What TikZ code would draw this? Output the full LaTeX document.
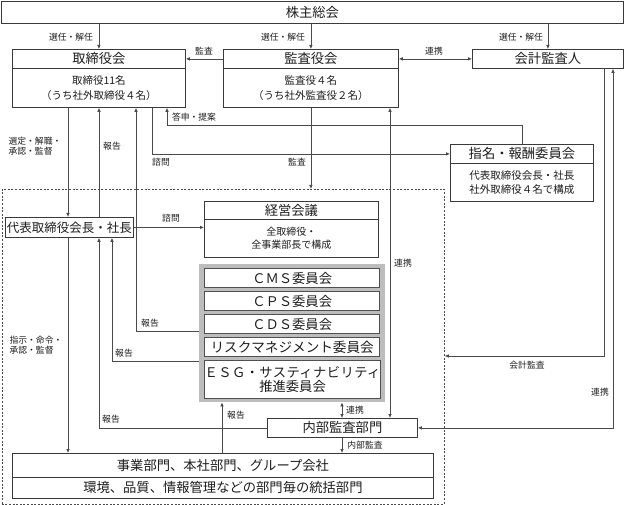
\documentclass[tikz,border=0pt]{standalone}
\usepackage{fontspec}
\setmainfont{Noto Sans CJK JP}
\newfontfamily\jpls[LetterSpace=3]{Noto Sans CJK JP}
\usetikzlibrary{arrows.meta,calc}
\definecolor{lc}{HTML}{4A4A4A}
\definecolor{bc}{HTML}{3A3A3A}
\definecolor{cc}{HTML}{505050}
\definecolor{gc}{HTML}{BDBDBD}
\definecolor{tc}{HTML}{1E1E1E}
\begin{document}
\begin{tikzpicture}[x=1pt,y=-1pt,
  ln/.style={draw=lc, line width=0.75pt},
  arr/.style={ln, -{Latex[length=4pt,width=3.6pt]}},
  darr/.style={ln, {Latex[length=4pt,width=3.6pt]}-{Latex[length=4pt,width=3.6pt]}},
  box/.style={draw=bc, line width=0.8pt, fill=white, inner sep=0pt, anchor=north west, align=center, text=tc},
  ttl/.style={box, font=\fontsize{13.3}{15}\selectfont},
  bdy/.style={box, font=\fontsize{10.5}{14.5}\selectfont},
  lbl/.style={font=\fontsize{8.8}{10.5}\selectfont, inner sep=0pt, align=left, text=tc},
  cbox/.style={draw=cc, line width=1.3pt, fill=white, inner sep=0pt, anchor=north west, align=center, text=tc, minimum width=175pt, font=\fontsize{13.3}{14}\selectfont},
]
\useasboundingbox (0,0) rectangle (624,505);

% column / row helpers
\foreach \c in {68,99,112,136,152,167,222,342,390,522,604,613}{\coordinate (c\c) at (\c,0);}
\foreach \r in {125,331,356,361}{\coordinate (r\r) at (0,\r);}

% dashed group
\node[draw=lc, line width=0.75pt, dash pattern=on 2pt off 1.6pt, anchor=north west, inner sep=0pt,
      minimum width=442.5pt, minimum height=314.5pt] (grp) at (1.5,189) {};

% gray committee area
\node[fill=gc, draw=none, anchor=north west, inner sep=0pt, minimum width=186pt, minimum height=138pt] (gray) at (199,264) {};

% boxes
\node[ttl, minimum width=622pt, minimum height=22pt] (kabu) at (1,1) {株主総会};

\node[ttl, minimum width=173pt, minimum height=19pt] (toriT) at (12,49) {取締役会};
\node[bdy, minimum width=173pt, minimum height=39pt] (toriB) at (12,68) {取締役11名\\（うち社外取締役４名）};

\node[ttl, minimum width=175pt, minimum height=19pt] (kansaT) at (223,49) {監査役会};
\node[bdy, minimum width=175pt, minimum height=39pt] (kansaB) at (223,68) {監査役４名\\（うち社外監査役２名）};

\node[ttl, minimum width=151pt, minimum height=19pt] (kaikei) at (472,49) {会計監査人};

\node[ttl, minimum width=143pt, minimum height=19pt] (shimeiT) at (450,144) {指名・報酬委員会};
\node[bdy, minimum width=143pt, minimum height=38pt] (shimeiB) at (450,163) {代表取締役会長・社長\\社外取締役４名で構成};

\node[box, font=\fontsize{12.5}{14}\selectfont, minimum width=128pt, minimum height=20pt] (daihyo) at (5,217) {代表取締役会長・社長};

\node[ttl, minimum width=174pt, minimum height=18pt] (keieiT) at (204,201) {経営会議};
\node[box, font=\fontsize{10}{13}\selectfont, minimum width=174pt, minimum height=38pt] (keieiB) at (204,219) {全取締役・\\全事業部長で構成};

\node[cbox, minimum height=19pt] (cms) at (204,268) {ＣＭＳ委員会};
\node[cbox, minimum height=19pt] (cps) at (204,291) {ＣＰＳ委員会};
\node[cbox, minimum height=19pt] (cds) at (204,314) {ＣＤＳ委員会};
\node[cbox, minimum height=19pt, font=\fontsize{13.6}{14}\selectfont] (risk) at (204,337) {リスクマネジメント委員会};
\node[cbox, minimum height=38pt] (esg) at (204,360) {{\jpls ＥＳＧ・サスティナビリティ}\\推進委員会};

\node[ttl, minimum width=150pt, minimum height=19pt] (naibu) at (267,418) {内部監査部門};

\node[ttl, minimum width=421pt, minimum height=24pt] (jigyoT) at (12,453) {事業部門、本社部門、グループ会社};
\node[ttl, minimum width=421pt, minimum height=21pt] (jigyoB) at (12,477) {環境、品質、情報管理などの部門毎の統括部門};

% connectors
\draw[arr] (kabu.south -| toriT.north) -- (toriT.north);
\node[lbl] (l1) at (71,37) {選任・解任};
\draw[arr] (kabu.south -| kansaT.north) -- (kansaT.north);
\node[lbl] (l2) at (283,37) {選任・解任};
\draw[arr] (kabu.south -| kaikei.north) -- (kaikei.north);
\node[lbl] (l3) at (521,37) {選任・解任};

\draw[arr] (kansaT.west) -- (toriT.east);
\node[lbl] (l4) at (204,51) {監査};
\draw[darr] (kansaT.east) -- (kaikei.west);
\node[lbl] (l5) at (434,51) {連携};

\draw[arr] (toriB.south -| c68) -- (daihyo.north -| c68);
\node[lbl] (l6) at (35,146) {選定・解職・\\承認・監督};
\draw[arr] (daihyo.north -| c99) -- (toriB.south -| c99);
\node[lbl] (l7) at (112,146) {報告};
\draw[arr] (gray.west |- r331) -| (toriB.south -| c136);
\node[lbl] (l8) at (150,323) {報告};
\draw[arr] (toriB.south -| c152) |- (shimeiT.west);
\node[lbl] (l9) at (161,162) {諮問};
\draw[arr] (shimeiT.north -| c522) |- (c167 |- r125) -- (toriB.south -| c167);
\node[lbl] (l10) at (194,117) {答申・提案};
\draw[arr] (kansaB.south) -- (kansaB.south |- grp.north);
\node[lbl] (l11) at (297,162) {監査};
\draw[darr] (kansaB.south -| c390) -- (naibu.north -| c390);
\node[lbl] (l12) at (403,263) {連携};
\draw[arr] (kaikei.south -| c604) |- (grp.east |- r356);
\node[lbl] (l13) at (527,365) {会計監査};
\draw[darr] (naibu.east) -| (kaikei.south -| c613);
\node[lbl] (l14) at (600,392) {連携};

\draw[arr] (daihyo.south -| c68) -- (jigyoT.north -| c68);
\node[lbl] (l15) at (36,345) {指示・命令・\\承認・監督};
\draw[arr] (naibu.west) -| (daihyo.south -| c99);
\node[lbl] (l16) at (111,419) {報告};
\draw[arr] (gray.west |- r361) -| (daihyo.south -| c112);
\node[lbl] (l17) at (124,353) {報告};
\draw[arr] (daihyo.east) -- (daihyo.east -| keieiB.west);
\node[lbl] (l18) at (171,218) {諮問};
\draw[arr] (jigyoT.north -| c222) -- (gray.south -| c222);
\node[lbl] (l19) at (236,415) {報告};
\draw[darr] (gray.south -| c342) -- (naibu.north -| c342);
\node[lbl] (l20) at (355,410) {連携};
\draw[arr] (naibu.south -| c342) -- (jigyoT.north -| c342);
\node[lbl] (l21) at (365,445) {内部監査};
\end{tikzpicture}
\end{document}
